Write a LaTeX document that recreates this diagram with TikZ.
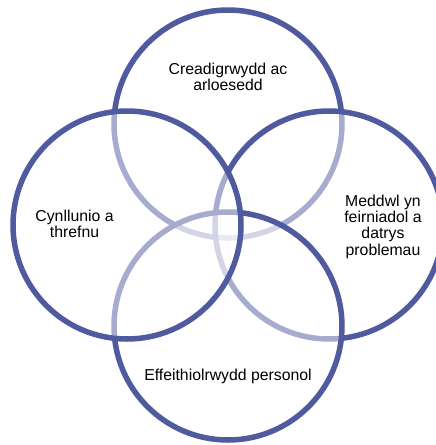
\documentclass[tikz,border=0pt]{standalone}
\usepackage{fontspec}
\setmainfont{Liberation Sans}
\definecolor{ringblue}{RGB}{80,90,158}
\begin{document}
\begin{tikzpicture}[x=1pt,y=-1pt,
  ring/.style={circle,draw=ringblue,line width=5.5pt,fill=white,fill opacity=0.5,
    draw opacity=1,minimum size=228pt,inner sep=0pt,outer sep=0pt},
  caption/.style={align=center,inner sep=0pt,text=black,
    font=\fontsize{15.8}{16.3}\selectfont}]
\useasboundingbox (0,0) rectangle (436,445);
% rings, stacked so that later fills veil the earlier outlines
\node[ring] (ctop)    at (228,124) {};
\node[ring] (cright)  at (329,225) {};
\node[ring] (cbottom) at (228,326) {};
\node[ring] (cleft)   at (127,225) {};
% captions
\node[caption] (ttop)    at (228,76.6)  {Creadigrwydd ac\\arloesedd};
\node[caption] (tleft)   at (74.5,224.1) {Cynllunio a\\threfnu};
\node[caption] (tright)  at (383,226.5) {Meddwl yn\\feirniadol a\\datrys\\problemau};
\node[caption] (tbottom) at (228,376)   {Effeithiolrwydd personol};
\end{tikzpicture}
\end{document}
